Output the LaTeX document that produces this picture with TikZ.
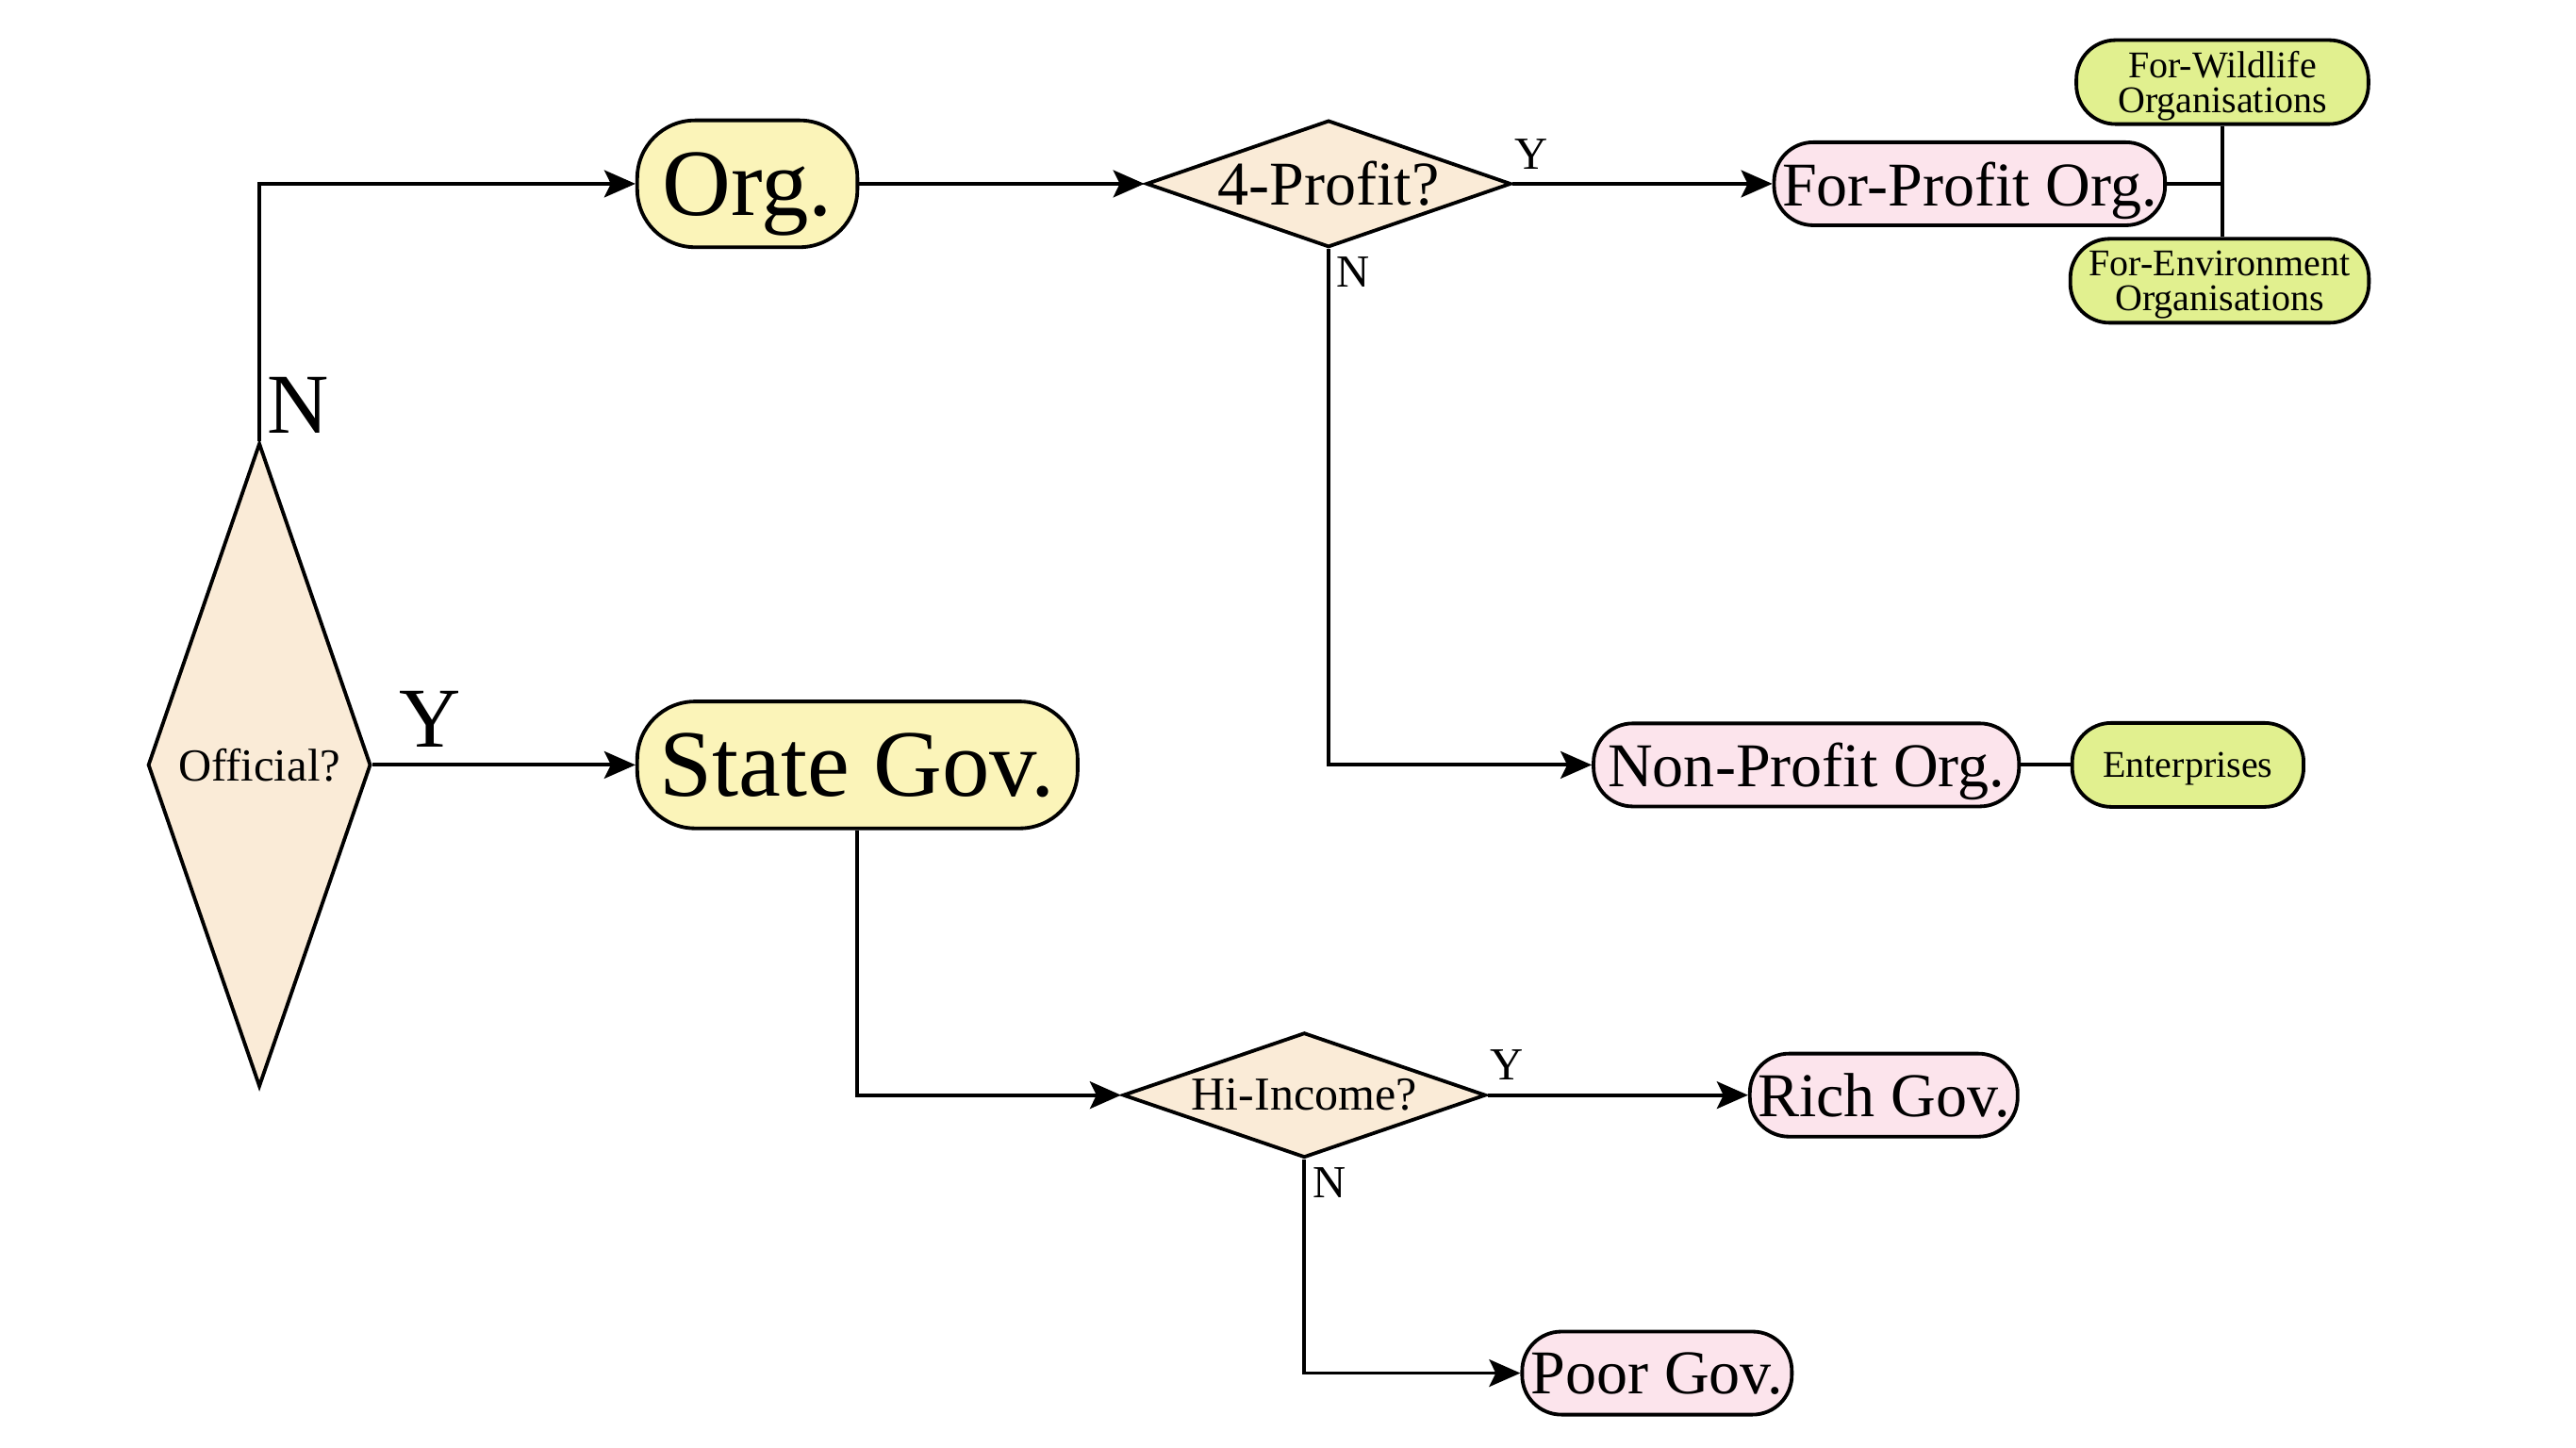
\documentclass[tikz,border=0pt]{standalone}
\usepackage{fontspec}
\setmainfont{Liberation Serif}
\usetikzlibrary{positioning}
\usetikzlibrary{arrows.meta}
\usetikzlibrary{shapes.geometric}
\definecolor{orgyellow}{HTML}{FBF4B9}
\definecolor{askbeige}{HTML}{FAEBD7}
\definecolor{leafpink}{HTML}{FCE4EC}
\definecolor{subgreen}{HTML}{E1F08F}
\tikzset{edge/.style = {-{Stealth[length=9.5pt,width=8.3pt,inset=2pt]}}}

\begin{document}
\begin{tikzpicture}[node distance=6cm, line width=1.1pt,
    ask node/.style={diamond,draw,fill=askbeige,inner sep=0pt},
    term node/.style={rectangle,rounded corners=0.62cm,draw,fill=orgyellow,minimum height=1.36cm,inner xsep=0pt,text depth=0pt,font=\fontsize{29}{34}\selectfont},
    leaf node/.style={rectangle,rounded corners=0.42cm,draw,fill=leafpink,minimum height=0.89cm,inner xsep=0pt,text depth=0pt,font=\fontsize{19}{22}\selectfont},
    sub node/.style={rectangle,rounded corners=0.42cm,draw,fill=subgreen,minimum height=0.9cm,inner sep=0pt,text depth=0pt,align=center,font=\fontsize{11.5}{10.5}\selectfont},
    big label/.style={font=\fontsize{26}{30}\selectfont,inner sep=2pt},
    small label/.style={font=\fontsize{14}{16}\selectfont,inner sep=2pt}]
    \useasboundingbox (0,0) rectangle (27.61,-15.52);
    % questions
    \node[ask node,aspect=0.35,minimum width=2.39cm,minimum height=6.9cm,font=\fontsize{14}{16}\selectfont] (off) at (2.78,-8.20) {Official?};
    \node[term node,minimum width=4.72cm] (state) [right of=off, node distance=6.41cm] {State Gov.};
    \node[term node,minimum width=2.36cm] (org) at (8.01,-1.97) {Org.};
    \node[ask node,aspect=2.9,minimum width=3.91cm,minimum height=1.36cm,font=\fontsize{19}{22}\selectfont] (profq) [right of=org, node distance=6.23cm] {4-Profit?};
    \node[ask node,aspect=2.8,minimum width=3.89cm,minimum height=1.34cm,font=\fontsize{14.4}{17}\selectfont] (incq) at (13.98,-11.74) {Hi-Income?};
    % answers
    \node[leaf node,minimum width=4.19cm] (forp) [right of=profq, node distance=6.87cm] {For-Profit Org.};
    \node[leaf node,minimum width=4.56cm] (nonp) [right of=state, node distance=10.17cm] {Non-Profit Org.};
    \node[leaf node,minimum width=2.87cm] (rich) [right of=incq, node distance=6.21cm] {Rich Gov.};
    \node[leaf node,minimum width=2.89cm] (poor) at (17.76,-14.72) {Poor Gov.};
    % sub groups
    \node[sub node,minimum width=3.13cm] (wild) at (23.82,-0.88) {For-Wildlife\\Organisations};
    \node[sub node,minimum width=3.20cm] (env) at (23.79,-3.01) {For-Environment\\Organisations};
    \node[sub node,minimum width=2.48cm] (ent) [right of=nonp, node distance=4.09cm] {Enterprises};

    \draw[edge] (off.north) |- node[pos=0, anchor=south west, big label] {N} (org.west);
    \draw[edge] (off.east) -- node[pos=0.22, above=3pt, big label] {Y} (state.west);
    \draw[edge] (org.east) -- (profq.west);
    \draw[edge] (profq.east) -- node[pos=0.07, above=2pt, small label] {Y} (forp.west);
    \draw[edge] (profq.south) |- node[pos=0, anchor=north west, small label] {N} (nonp.west);
    \draw[edge] (state.south) |- (incq.west);
    \draw[edge] (incq.east) -- node[pos=0.075, above=2pt, small label] {Y} (rich.west);
    \draw[edge] (incq.south) |- node[pos=0, anchor=north west, small label] {N} (poor.west);
    \coordinate (fork) at (forp.east -| wild.south);
    \draw (forp.east) -- (fork);
    \draw (wild.south) -- (wild.south |- env.north);
    \draw (nonp) -- (ent);
\end{tikzpicture}
\end{document}
